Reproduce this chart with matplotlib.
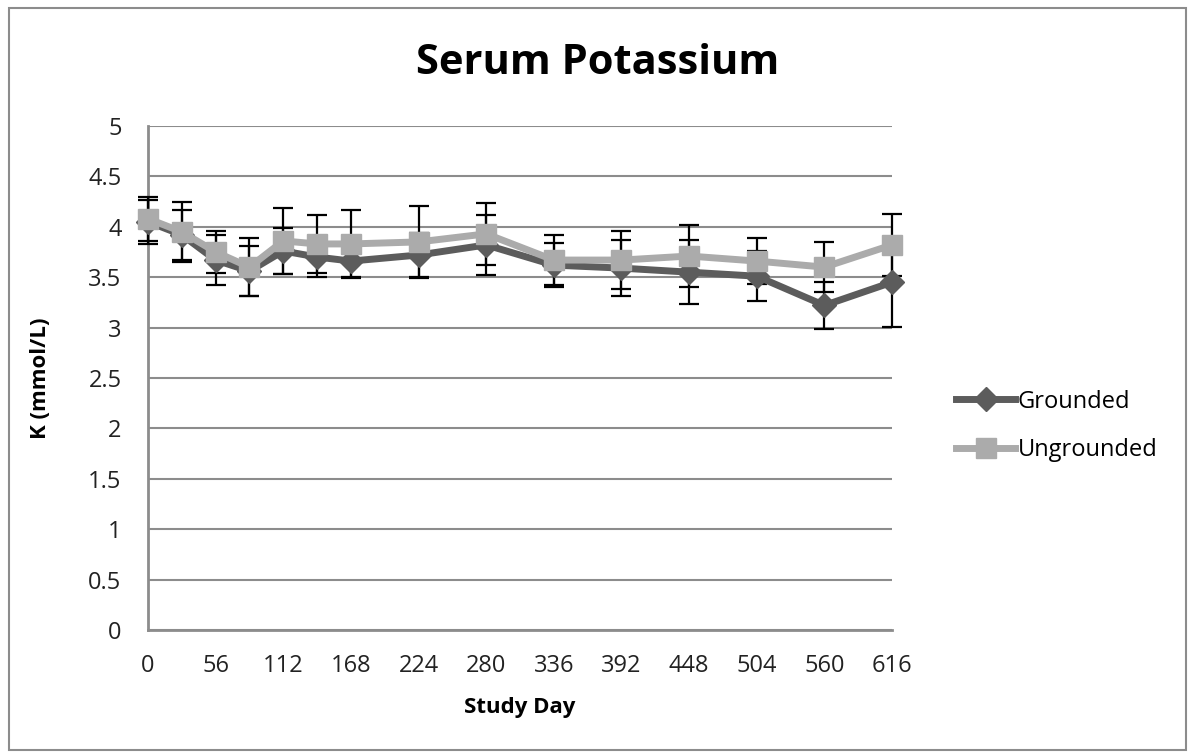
import matplotlib
matplotlib.use("Agg")
import matplotlib.pyplot as plt
from matplotlib.patches import Rectangle

# data
days = [0, 28, 56, 84, 112, 140, 168, 224, 280, 336, 392, 448, 504, 560, 616]
grounded = [4.05, 3.92, 3.67, 3.56, 3.76, 3.70, 3.66, 3.72, 3.82, 3.62, 3.59, 3.55, 3.51, 3.22, 3.45]
grounded_err = [0.22, 0.25, 0.25, 0.25, 0.23, 0.20, 0.16, 0.22, 0.30, 0.22, 0.28, 0.32, 0.25, 0.23, 0.44]
ungrounded = [4.08, 3.95, 3.75, 3.60, 3.86, 3.83, 3.83, 3.85, 3.93, 3.67, 3.67, 3.71, 3.66, 3.60, 3.82]
ungrounded_err = [0.22, 0.30, 0.21, 0.29, 0.33, 0.29, 0.34, 0.36, 0.31, 0.25, 0.29, 0.31, 0.23, 0.25, 0.31]
x_ticks = list(range(0, 617, 56))
y_ticks = [0, 0.5, 1, 1.5, 2, 2.5, 3, 3.5, 4, 4.5, 5]

plt.rcParams['font.family'] = ['Open Sans', 'DejaVu Sans']

W, H = 1188, 754
fig = plt.figure(figsize=(W / 100, H / 100), dpi=100)
fig.patches.append(Rectangle((9 / W, 1 - 750 / H), 1177 / W, 742 / H, transform=fig.transFigure,
                             fill=False, edgecolor='#8c8c8c', lw=1.5))

ax = fig.add_axes([148 / W, 1 - 630 / H, 744 / W, 504 / H])

ax.errorbar(days, grounded, yerr=grounded_err, fmt='none', ecolor='black', elinewidth=1.6,
            capsize=7, capthick=1.6, zorder=3, clip_on=False)
ax.errorbar(days, ungrounded, yerr=ungrounded_err, fmt='none', ecolor='black', elinewidth=1.6,
            capsize=7, capthick=1.6, zorder=3, clip_on=False)
ax.plot(days, grounded, color='#5c5c5c', lw=5, marker='D', markersize=12,
        label='Grounded', zorder=4, clip_on=False)
ax.plot(days, ungrounded, color='#ababab', lw=5, marker='s', markersize=15,
        label='Ungrounded', zorder=5, clip_on=False)

ax.set_xlim(0, 616)
ax.set_ylim(0, 5)
ax.set_xticks(x_ticks)
ax.set_yticks(y_ticks)
ax.set_yticklabels([('%g' % v) for v in y_ticks])
ax.tick_params(length=0, labelsize=17, colors='#222222')
ax.tick_params(axis='x', pad=17)
ax.tick_params(axis='y', pad=19)
ax.yaxis.grid(True, color='#8c8c8c', lw=1.5)
ax.set_axisbelow(True)
for s in ['top', 'right']:
    ax.spines[s].set_visible(False)
for s in ['left', 'bottom']:
    ax.spines[s].set_color('#8c8c8c')
    ax.spines[s].set_linewidth(2)

fig.text(598 / W, 1 - 64 / H, 'Serum Potassium', fontsize=30, fontweight='bold',
         ha='center', va='center')
fig.text(520 / W, 1 - 708 / H, 'Study Day', fontsize=16, fontweight='bold',
         ha='center', va='center')
fig.text(40 / W, 1 - 378 / H, 'K (mmol/L)', fontsize=16, fontweight='bold',
         ha='center', va='center', rotation=90)

fig.legend(loc='center left', bbox_to_anchor=(935 / W, 1 - 426 / H), frameon=False,
           fontsize=17, handlelength=2.5, handletextpad=0.1, labelspacing=1.05)

fig.savefig('out.png', dpi=100, facecolor='white')
